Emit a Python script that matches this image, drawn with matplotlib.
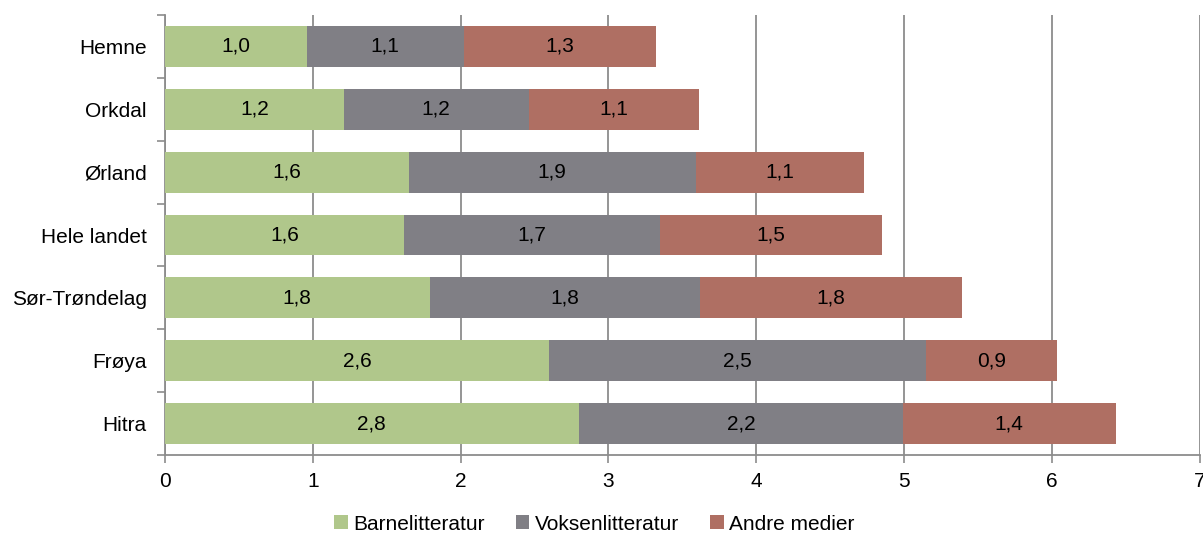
import matplotlib.pyplot as plt
import numpy as np

plt.rcParams["font.family"] = ["Liberation Sans", "DejaVu Sans"]

# Data (top to bottom as shown)
KOMMUNER = ["Hemne", "Orkdal", "Ørland", "Hele landet", "Sør-Trøndelag", "Frøya", "Hitra"]
BARNELITTERATUR = [0.96, 1.21, 1.65, 1.62, 1.79, 2.60, 2.80]
VOKSENLITTERATUR = [1.06, 1.25, 1.94, 1.73, 1.83, 2.55, 2.19]
ANDRE_MEDIER = [1.30, 1.15, 1.14, 1.50, 1.77, 0.88, 1.44]
SERIES = ["Barnelitteratur", "Voksenlitteratur", "Andre medier"]
COLORS = ["#B0C78B", "#807F85", "#AF6F63"]
GRID = "#8C8C8C"
FS = 15


def main():
    fig = plt.figure(figsize=(12.03, 5.36), dpi=100)
    ax = fig.add_axes([0.137, 0.151, 0.8605, 0.821])

    y = np.arange(len(KOMMUNER))
    left = np.zeros(len(KOMMUNER))
    for name, vals, color in zip(SERIES, [BARNELITTERATUR, VOKSENLITTERATUR, ANDRE_MEDIER], COLORS):
        vals = np.array(vals)
        ax.barh(y, vals, left=left, height=0.65, color=color, label=name, zorder=3)
        for yi, (l, v) in enumerate(zip(left, vals)):
            ax.text(l + v / 2, yi, f"{v:.1f}".replace(".", ","), ha="center", va="center",
                    fontsize=FS, color="black", zorder=4)
        left += vals

    ax.set_xlim(0, 7)
    ax.set_ylim(len(KOMMUNER) - 0.5, -0.5)
    ax.set_xticks(range(8))
    ax.set_yticks(y)
    ax.set_yticklabels(KOMMUNER)
    ax.set_yticks(np.arange(-0.5, len(KOMMUNER)), minor=True)
    ax.tick_params(axis="y", which="major", length=0, pad=13, labelsize=FS)
    ax.tick_params(axis="y", which="minor", length=6, width=1.2, color=GRID)
    ax.tick_params(axis="x", length=6, width=1.2, color=GRID, labelsize=FS, pad=6)

    ax.grid(axis="x", color=GRID, linewidth=1.3, zorder=0)
    for side in ["top", "right"]:
        ax.spines[side].set_visible(False)
    for side in ["left", "bottom"]:
        ax.spines[side].set_color(GRID)
        ax.spines[side].set_linewidth(1.3)

    fig.legend(loc="center", bbox_to_anchor=(0.494, 0.022), ncol=3, frameon=False,
               fontsize=FS, handlelength=0.65, handleheight=0.65, handletextpad=0.25,
               columnspacing=1.5)

    fig.savefig("out.png", dpi=100)


if __name__ == "__main__":
    main()
